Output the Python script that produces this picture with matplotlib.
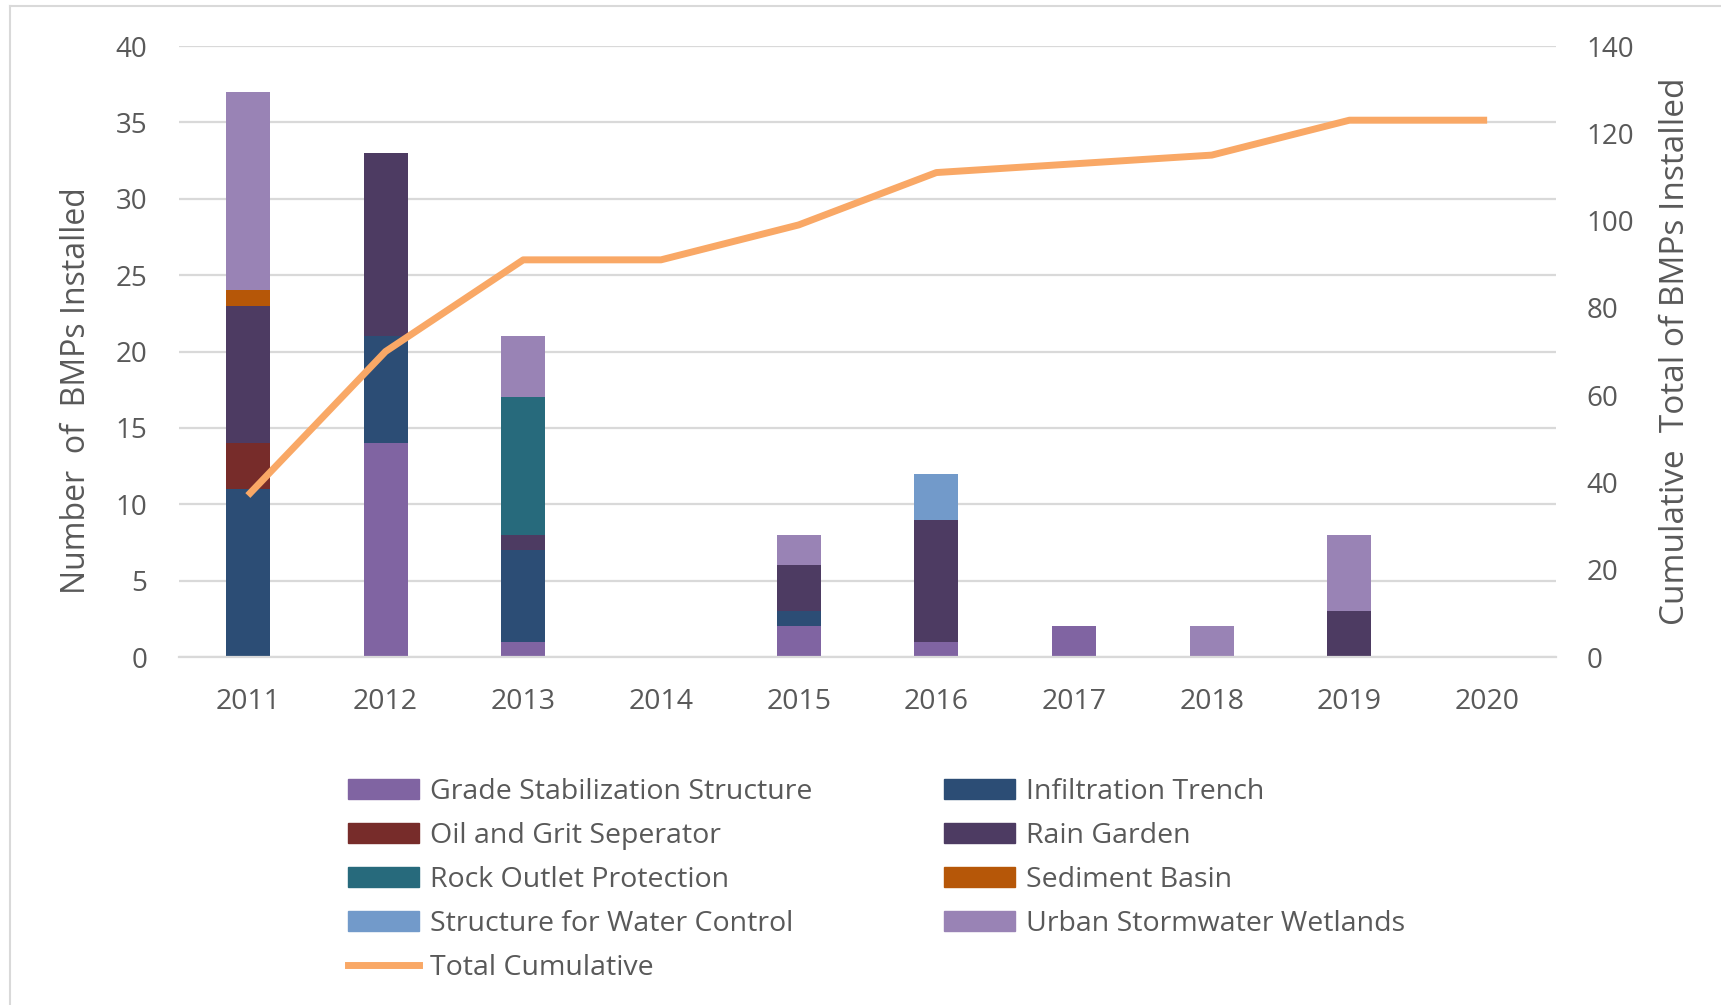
import numpy as np
import matplotlib
matplotlib.use("Agg")
import matplotlib.pyplot as plt
from matplotlib.patches import Patch
from matplotlib.lines import Line2D

years = ['2011', '2012', '2013', '2014', '2015', '2016', '2017', '2018', '2019', '2020']
# stacked counts per BMP type, bottom to top
grade_stab = [0, 14, 1, 0, 2, 1, 2, 0, 0, 0]
infiltration = [11, 7, 6, 0, 1, 0, 0, 0, 0, 0]
oil_grit = [3, 0, 0, 0, 0, 0, 0, 0, 0, 0]
rain_garden = [9, 12, 1, 0, 3, 8, 0, 0, 3, 0]
rock_outlet = [0, 0, 9, 0, 0, 0, 0, 0, 0, 0]
sediment = [1, 0, 0, 0, 0, 0, 0, 0, 0, 0]
water_control = [0, 0, 0, 0, 0, 3, 0, 0, 0, 0]
urban_wetlands = [13, 0, 4, 0, 2, 0, 0, 2, 5, 0]
cumulative = [37, 70, 91, 91, 99, 111, 113, 115, 123, 123]

series = [
    ('Grade Stabilization Structure', grade_stab, '#8064A2'),
    ('Infiltration Trench', infiltration, '#2C4D75'),
    ('Oil and Grit Seperator', oil_grit, '#772C2A'),
    ('Rain Garden', rain_garden, '#4D3B62'),
    ('Rock Outlet Protection', rock_outlet, '#276A7C'),
    ('Sediment Basin', sediment, '#B65708'),
    ('Structure for Water Control', water_control, '#729ACA'),
    ('Urban Stormwater Wetlands', urban_wetlands, '#9983B5'),
]

plt.rcParams['font.family'] = ['Open Sans', 'DejaVu Sans']
txt = '#595959'
grid = '#D9D9D9'

fig = plt.figure(figsize=(17.21, 10.05), dpi=100)
ax = fig.add_axes([179/1721, 1-657/1005, (1556-179)/1721, (657-46)/1005])
x = np.arange(len(years))

bottom = np.zeros(len(years))
handles = {}
for name, vals, col in series:
    v = np.array(vals, dtype=float)
    ax.bar(x, v, 0.32, bottom=bottom, color=col, zorder=2)
    bottom += v
    handles[name] = Patch(color=col)

ax.set_xlim(-0.5, 9.5)
ax.set_ylim(0, 40)
ax.set_yticks(range(0, 41, 5))
ax.set_xticks(x)
ax.set_xticklabels(years)
ax.yaxis.grid(True, color=grid, linewidth=1.6, zorder=0)
ax.set_axisbelow(True)
for s in ['top', 'right', 'left']:
    ax.spines[s].set_visible(False)
ax.spines['bottom'].set_color(grid)
ax.spines['bottom'].set_linewidth(1.6)
ax.tick_params(axis='y', length=0, pad=23, labelsize=20, labelcolor=txt)
ax.tick_params(axis='x', length=0, pad=22, labelsize=20.5, labelcolor=txt)

ax2 = ax.twinx()
ax2.plot(x, cumulative, color='#F9A866', linewidth=5, solid_capstyle='butt')
ax2.set_ylim(0, 140)
ax2.set_yticks(range(0, 141, 20))
for s in ax2.spines.values():
    s.set_visible(False)
ax2.tick_params(axis='y', length=0, pad=22, labelsize=20, labelcolor=txt)
handles['Total Cumulative'] = Line2D([0], [0], color='#F9A866', linewidth=5)

fig.text(77/1721, 1-391/1005, 'Number  of  BMPs Installed', rotation=90,
         ha='center', va='center', fontsize=23, color=txt)
fig.text(1676/1721, 1-351/1005, 'Cumulative  Total of BMPs Installed', rotation=90,
         ha='center', va='center', fontsize=24, color=txt)

col1 = ['Grade Stabilization Structure', 'Oil and Grit Seperator', 'Rock Outlet Protection',
        'Structure for Water Control', 'Total Cumulative']
col2 = ['Infiltration Trench', 'Rain Garden', 'Sediment Basin', 'Urban Stormwater Wetlands']
leg_kw = dict(frameon=False, fontsize=20.5, labelcolor=txt, handlelength=2.5, handleheight=0.7,
              handletextpad=0.39, labelspacing=0.56, borderpad=0, borderaxespad=0, loc='upper left')
fig.legend([handles[n] for n in col1], col1, bbox_to_anchor=(348/1721, 1-778/1005), **leg_kw)
fig.legend([handles[n] for n in col2], col2, bbox_to_anchor=(944/1721, 1-778/1005), **leg_kw)

# light chart-area border (left and top edges visible)
fig.add_artist(plt.Line2D([10/1721, 10/1721], [0, 1-6/1005], color=grid, linewidth=1.5,
                          transform=fig.transFigure))
fig.add_artist(plt.Line2D([10/1721, 1], [1-6/1005, 1-6/1005], color=grid, linewidth=1.5,
                          transform=fig.transFigure))

fig.savefig('out.png', dpi=100)
